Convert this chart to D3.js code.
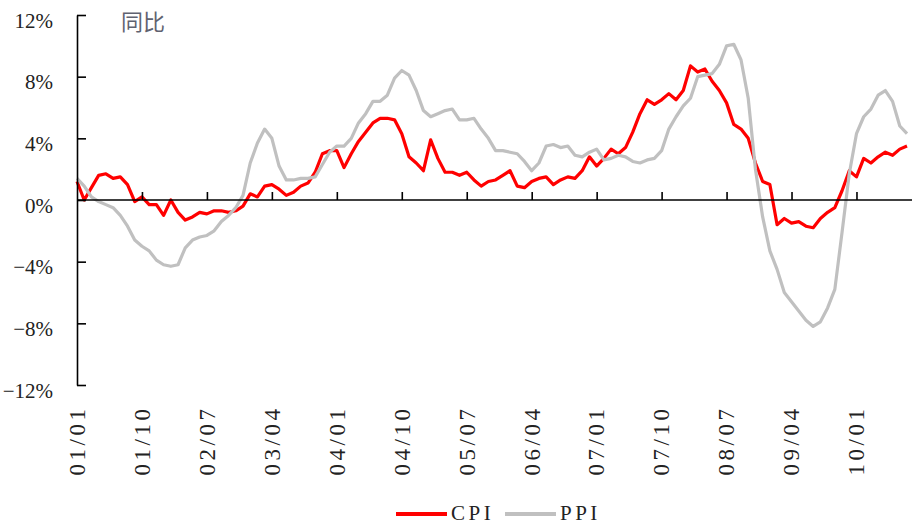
<!DOCTYPE html>
<html>
<head>
<meta charset="utf-8">
<script src="https://cdn.jsdelivr.net/npm/d3@7"></script>
<style>
  html, body { margin: 0; padding: 0; background: #fff; }
  svg { display: block; }
</style>
</head>
<body>
<svg id="chart" width="912" height="525"></svg>
<script>
// ---------- data ----------
const seriesNames = ["CPI", "PPI"];
const startYear = 2001, startMonth = 1, monthCount = 116; // 2001/01 .. 2010/08

const cpi = [
  1.2, 0.0, 0.8, 1.6, 1.7, 1.4, 1.5, 1.0, -0.1, 0.2, -0.3, -0.3,
  -1.0, 0.0, -0.8, -1.3, -1.1, -0.8, -0.9, -0.7, -0.7, -0.8, -0.7, -0.4,
  0.4, 0.2, 0.9, 1.0, 0.7, 0.3, 0.5, 0.9, 1.1, 1.8, 3.0, 3.2,
  3.2, 2.1, 3.0, 3.8, 4.4, 5.0, 5.3, 5.3, 5.2, 4.3, 2.8, 2.4,
  1.9, 3.9, 2.7, 1.8, 1.8, 1.6, 1.8, 1.3, 0.9, 1.2, 1.3, 1.6,
  1.9, 0.9, 0.8, 1.2, 1.4, 1.5, 1.0, 1.3, 1.5, 1.4, 1.9, 2.8,
  2.2, 2.7, 3.3, 3.0, 3.4, 4.4, 5.6, 6.5, 6.2, 6.5, 6.9, 6.5,
  7.1, 8.7, 8.3, 8.5, 7.7, 7.1, 6.3, 4.9, 4.6, 4.0, 2.4, 1.2,
  1.0, -1.6, -1.2, -1.5, -1.4, -1.7, -1.8, -1.2, -0.8, -0.5, 0.6, 1.9,
  1.5, 2.7, 2.4, 2.8, 3.1, 2.9, 3.3, 3.5
];

const ppi = [
  1.4, 0.9, 0.2, -0.1, -0.3, -0.5, -1.0, -1.7, -2.6, -3.0, -3.3, -3.9,
  -4.2, -4.3, -4.2, -3.1, -2.6, -2.4, -2.3, -2.0, -1.4, -1.0, -0.5, 0.3,
  2.4, 3.7, 4.6, 4.0, 2.2, 1.3, 1.3, 1.4, 1.4, 1.5, 2.3, 3.1,
  3.5, 3.5, 4.0, 5.0, 5.6, 6.4, 6.4, 6.8, 7.9, 8.4, 8.1, 7.1,
  5.8, 5.4, 5.6, 5.8, 5.9, 5.2, 5.2, 5.3, 4.6, 4.0, 3.2, 3.2,
  3.1, 3.0, 2.5, 1.9, 2.4, 3.5, 3.6, 3.4, 3.5, 2.9, 2.8, 3.1,
  3.3, 2.6, 2.7, 2.9, 2.8, 2.5, 2.4, 2.6, 2.7, 3.2, 4.6, 5.4,
  6.1, 6.6, 8.0, 8.1, 8.2, 8.8, 10.0, 10.1, 9.1, 6.6, 2.0, -1.1,
  -3.3, -4.5, -6.0, -6.6, -7.2, -7.8, -8.2, -7.9, -7.0, -5.8, -2.1, 1.7,
  4.3, 5.4, 5.9, 6.8, 7.1, 6.4, 4.8, 4.3
];

const xTickLabels = ["01/01","01/10","02/07","03/04","04/01","04/10","05/07",
                     "06/04","07/01","07/10","08/07","09/04","10/01"];
const yTickValues = [-12, -8, -4, 0, 4, 8, 12];
const titleText = "同比";

// month categories "YY/MM"
const months = [];
for (let i = 0; i < monthCount; i++) {
  const t = (startMonth - 1) + i;
  const yy = (startYear + Math.floor(t / 12)) % 100;
  const mm = (t % 12) + 1;
  months.push(String(yy).padStart(2, "0") + "/" + String(mm).padStart(2, "0"));
}

// ---------- layout ----------
const W = 912, H = 525;
const x0 = 77, x1 = 907, yTop = 15, yBot = 385;
const serif = "'Liberation Serif', 'Times New Roman', serif";

const svg = d3.select("#chart");

const x = d3.scalePoint().domain(months).range([x0, x1]);
const y = d3.scaleLinear().domain([-12, 12]).range([yBot, yTop]);

// ---------- lines ----------
const line = d3.line()
  .x((d, i) => x(months[i]))
  .y(d => y(d));

svg.append("path")
  .datum(cpi)
  .attr("fill", "none")
  .attr("stroke", "#ff0000")
  .attr("stroke-width", 3.2)
  .attr("stroke-linejoin", "round")
  .attr("d", line);

svg.append("path")
  .datum(ppi)
  .attr("fill", "none")
  .attr("stroke", "#c0c0c0")
  .attr("stroke-width", 3.2)
  .attr("stroke-linejoin", "round")
  .attr("d", line);

// ---------- y axis ----------
const yAxis = d3.axisLeft(y)
  .tickValues(yTickValues)
  .tickSizeInner(-9)
  .tickSizeOuter(0)
  .tickPadding(24)
  .tickFormat(d => (d < 0 ? "\u2212" + Math.abs(d) : d) + "%");

const gy = svg.append("g")
  .attr("transform", `translate(${x0},0)`)
  .call(yAxis);
gy.select(".domain").attr("stroke", "#000").attr("stroke-width", 1.6);
gy.selectAll(".tick line").attr("stroke", "#000").attr("stroke-width", 1.6);
gy.selectAll(".tick text")
  .attr("dy", 12)
  .attr("fill", "#222")
  .style("font-family", serif)
  .style("font-size", "21px");

// ---------- x axis ----------
const xAxis = d3.axisBottom(x)
  .tickValues(xTickLabels.slice(1))
  .tickSizeInner(-8)
  .tickSizeOuter(0)
  .tickFormat("");

const gx = svg.append("g")
  .attr("transform", `translate(0,${y(0)})`)
  .call(xAxis);
gx.select(".domain").remove();
gx.append("line")
  .attr("x1", x0).attr("x2", W)
  .attr("y1", 0).attr("y2", 0)
  .attr("stroke", "#000").attr("stroke-width", 1.6);
gx.selectAll(".tick line").attr("stroke", "#000").attr("stroke-width", 1.6);

// rotated category labels at the bottom
svg.append("g")
  .selectAll("text")
  .data(xTickLabels)
  .join("text")
  .attr("transform", d => `translate(${x(d)},405.5) rotate(-90)`)
  .attr("text-anchor", "end")
  .attr("dy", "0.34em")
  .attr("fill", "#222")
  .style("font-family", serif)
  .style("font-size", "23px")
  .style("letter-spacing", "3.5px")
  .text(d => d);

// ---------- title ----------
svg.append("text")
  .attr("x", 121)
  .attr("y", 30)
  .attr("fill", "#5f6270")
  .style("font-family", "'Noto Sans CJK SC', sans-serif")
  .style("font-size", "22px")
  .text(titleText);

// ---------- legend ----------
const legendItems = [
  { name: seriesNames[0], color: "#ff0000", lx: 396 },
  { name: seriesNames[1], color: "#c0c0c0", lx: 505 }
];
const lg = svg.append("g");
legendItems.forEach(it => {
  lg.append("line")
    .attr("x1", it.lx).attr("x2", it.lx + 51)
    .attr("y1", 514).attr("y2", 514)
    .attr("stroke", it.color).attr("stroke-width", 4);
  lg.append("text")
    .attr("x", it.lx + 55)
    .attr("y", 520)
    .attr("fill", "#222")
    .style("font-family", serif)
    .style("font-size", "21px")
    .style("letter-spacing", "3.5px")
    .text(it.name);
});
</script>
</body>
</html>
